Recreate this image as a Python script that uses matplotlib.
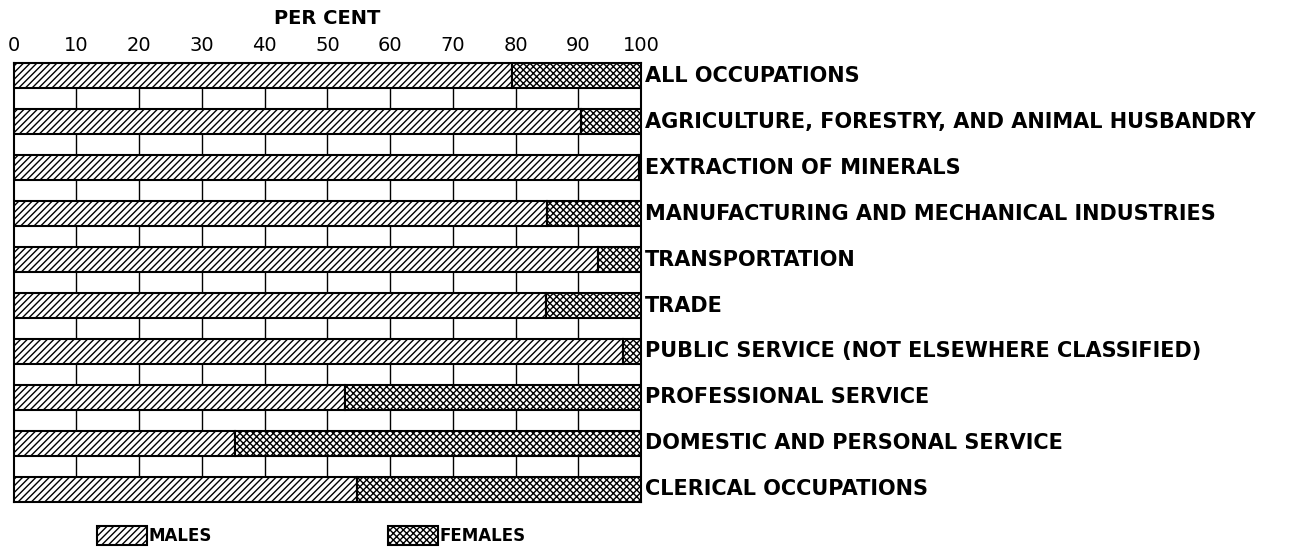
import matplotlib
matplotlib.use('Agg')
import matplotlib.pyplot as plt
from matplotlib.patches import Patch

categories = ["ALL OCCUPATIONS",
              "AGRICULTURE, FORESTRY, AND ANIMAL HUSBANDRY",
              "EXTRACTION OF MINERALS",
              "MANUFACTURING AND MECHANICAL INDUSTRIES",
              "TRANSPORTATION",
              "TRADE",
              "PUBLIC SERVICE (NOT ELSEWHERE CLASSIFIED)",
              "PROFESSIONAL SERVICE",
              "DOMESTIC AND PERSONAL SERVICE",
              "CLERICAL OCCUPATIONS"]
males = [79.5, 90.4, 99.6, 85.0, 93.2, 84.8, 97.1, 52.8, 35.3, 54.8]
females = [100 - m for m in males]
ticks = [0, 10, 20, 30, 40, 50, 60, 70, 80, 90, 100]

plt.rcParams['font.family'] = ['DejaVu Sans']
plt.rcParams['hatch.linewidth'] = 1.0

male_hatch = '/////'
female_hatch = 'xxxxx'

fig = plt.figure(figsize=(13.03, 5.54), dpi=100)
ax = fig.add_axes([0.0105, 0.094, 0.4815, 0.792])

h = 0.55
ypos = list(range(len(categories)))
ax.barh(ypos, males, height=h, color='white', edgecolor='black',
        hatch=male_hatch, linewidth=1.5, zorder=3)
ax.barh(ypos, females, left=males, height=h, color='white',
        edgecolor='black', hatch=female_hatch, linewidth=1.5, zorder=3)

# vertical rules show only in the gaps between bars
for t in ticks[1:-1]:
    ax.axvline(t, color='black', linewidth=1.0, zorder=1)

ax.set_xlim(0, 100)
ax.set_ylim(len(categories) - 1 + h / 2, -h / 2)
for s in ax.spines.values():
    s.set_linewidth(1.5)

ax.xaxis.tick_top()
ax.set_xticks(ticks)
ax.set_xticklabels([str(t) for t in ticks], fontsize=14)
ax.tick_params(axis='x', length=0, pad=6)
ax.set_title("PER CENT", fontsize=14, fontweight='bold', pad=28)

ax.set_yticks([])
for y, name in zip(ypos, categories):
    ax.text(100.6, y, name, fontsize=15, fontweight='bold',
            ha='left', va='center', clip_on=False)

handles = [Patch(facecolor='white', edgecolor='black', hatch=male_hatch,
                 linewidth=1.5, label='MALES'),
           Patch(facecolor='white', edgecolor='black', hatch=female_hatch,
                 linewidth=1.5, label='FEMALES')]
leg_kw = dict(loc='center left', frameon=False,
              prop={'size': 12, 'weight': 'bold'},
              handlelength=3.0, handleheight=1.4, handletextpad=0.1)
fig.legend(handles=handles[:1], bbox_to_anchor=(0.063, 0.033), **leg_kw)
fig.legend(handles=handles[1:], bbox_to_anchor=(0.286, 0.033), **leg_kw)

fig.savefig('out.png', dpi=100)
